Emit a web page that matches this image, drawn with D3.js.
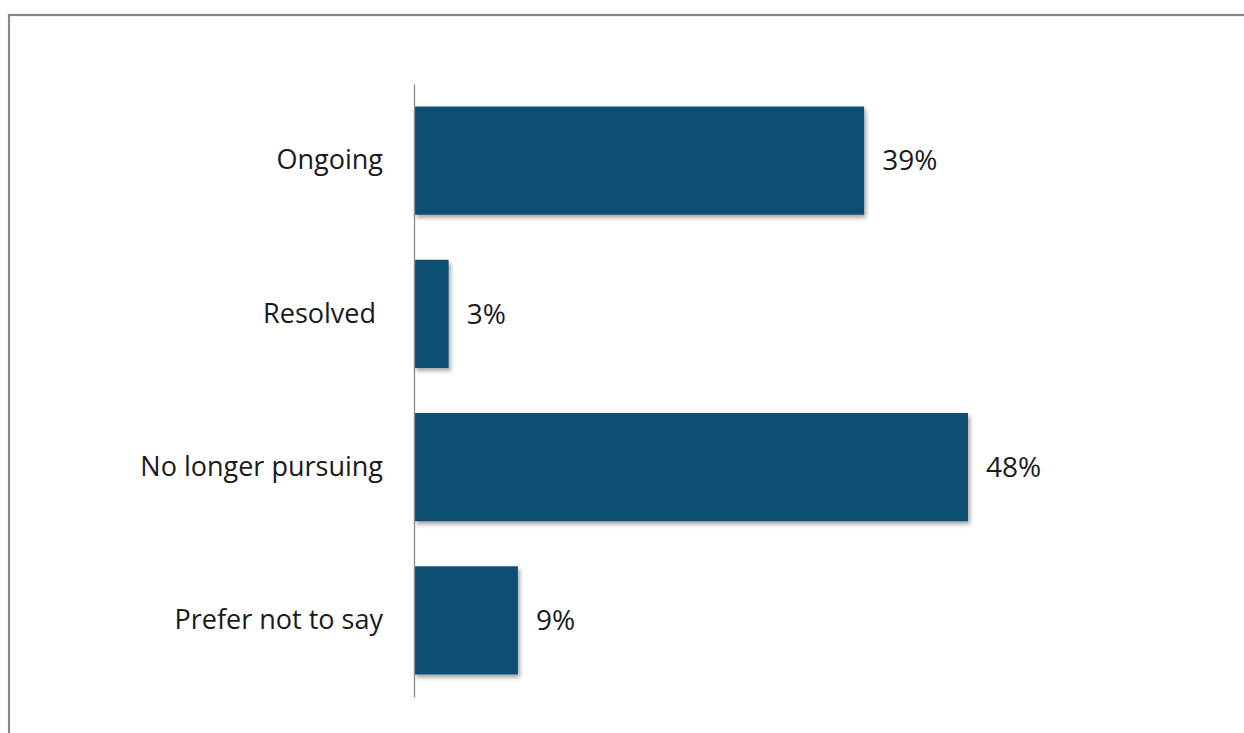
<!DOCTYPE html>
<html>
<head>
<meta charset="utf-8">
<script src="https://cdn.jsdelivr.net/npm/d3@7"></script>
<style>
  html, body { margin: 0; padding: 0; background: #fff; }
  svg { display: block; }
</style>
</head>
<body>
<svg id="chart" width="1244" height="733"></svg>
<script>
// Status of the matter, share of respondents
const categories = ["Ongoing", "Resolved ", "No longer pursuing", "Prefer not to say"];
const values = [39, 3, 48, 9];
const valueLabels = ["39%", "3%", "48%", "9%"];

const svg = d3.select("#chart");
const W = 1244, H = 733;
const FONT = "'Open Sans', Lato, sans-serif";

// Chart area frame
svg.append("rect")
  .attr("x", 9).attr("y", 15)
  .attr("width", W + 20).attr("height", H + 20)
  .attr("fill", "#fff")
  .attr("stroke", "#878787")
  .attr("stroke-width", 2.2);

const defs = svg.append("defs");
const f = defs.append("filter").attr("id", "shadow")
  .attr("x", "-10%").attr("y", "-10%").attr("width", "130%").attr("height", "130%");
f.append("feDropShadow")
  .attr("dx", 2).attr("dy", 3).attr("stdDeviation", 2.2)
  .attr("flood-color", "#000").attr("flood-opacity", 0.35);

const x0 = 414;
const x = d3.scaleLinear().domain([0, 48]).range([x0, 968]);
const y = d3.scaleBand().domain(categories).range([84, 697])
  .paddingInner(0.294).paddingOuter(0.147);

// Bars
svg.append("g").selectAll("rect")
  .data(categories)
  .join("rect")
  .attr("x", x(0))
  .attr("y", d => y(d))
  .attr("width", (d, i) => x(values[i]) - x(0))
  .attr("height", y.bandwidth())
  .attr("fill", "#114f73")
  .attr("filter", "url(#shadow)");

// Category axis
const axis = d3.axisLeft(y).tickSize(0).tickPadding(31);
const gAxis = svg.append("g")
  .attr("transform", `translate(${x0},0)`)
  .call(axis);
gAxis.select(".domain").attr("stroke", "#8c8c8c").attr("stroke-width", 1.3);
gAxis.selectAll("text")
  .attr("font-family", FONT)
  .attr("font-size", 27)
  .attr("fill", "#1a1a1a")
  .style("white-space", "pre");

// Value labels
svg.append("g").selectAll("text")
  .data(categories)
  .join("text")
  .attr("x", (d, i) => x(values[i]) + 18)
  .attr("y", d => y(d) + y.bandwidth() / 2)
  .attr("dy", "0.35em")
  .attr("font-family", FONT)
  .attr("font-size", 28)
  .attr("fill", "#1a1a1a")
  .text((d, i) => valueLabels[i]);
</script>
</body>
</html>
